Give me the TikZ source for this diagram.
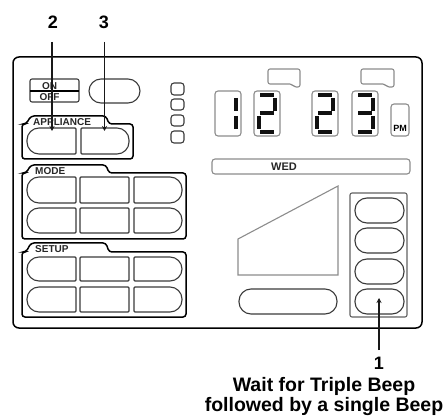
\documentclass[tikz,border=0pt]{standalone}
\usepackage{fontspec}
\setmainfont{Liberation Sans}
\usetikzlibrary{arrows.meta}
\definecolor{btnline}{HTML}{3A3A3A}
\definecolor{dispgray}{HTML}{8C8C8C}
\definecolor{seg}{HTML}{111111}
\newcommand{\lbtn}[4]{\draw[btn] (#3,#2) [rounded corners=12pt] -- (#1,#2) -- (#1,#4) [rounded corners=1pt] -- (#3,#4) -- cycle;}
\newcommand{\rbtn}[4]{\draw[btn] (#1,#2) [rounded corners=12pt] -- (#3,#2) -- (#3,#4) [rounded corners=1pt] -- (#1,#4) -- cycle;}
\newcommand{\mbtn}[4]{\draw[btn,rounded corners=1pt] (#1,#2) rectangle (#3,#4);}
\newcommand{\pill}[4]{\draw[btn,rounded corners=12pt] (#1,#2) rectangle (#3,#4);}
\newcommand{\grp}[8]{\draw[grpline,rounded corners=3pt] (#1,#5) -- (#1,#4) -- (26,#4) -- (31,#3) -- (106,#3) -- (109,#4) -- (#2,#4) -- (#2,#5) -- cycle;\node[grouplab,anchor=base west] (#6) at (#7,#8) {#6};}
\newcommand{\digbox}[2]{\draw[dispbox,rounded corners=3pt] (#1,#2) rectangle +(26,45);}
\newcommand{\sT}[2]{\draw[segline] (#1+6,#2+4) -- +(14,0);}
\newcommand{\sM}[2]{\draw[segline] (#1+6,#2+22.5) -- +(14,0);}
\newcommand{\sB}[2]{\draw[segline] (#1+6,#2+41) -- +(14,0);}
\newcommand{\sUR}[2]{\draw[segline] (#1+21,#2+7) -- +(0,13);}
\newcommand{\sLR}[2]{\draw[segline] (#1+21,#2+25) -- +(0,13);}
\newcommand{\sLL}[2]{\draw[segline] (#1+5,#2+25) -- +(0,13);}
\tikzset{
  btn/.style={draw=btnline,line width=1.1pt},
  grpline/.style={draw=black,line width=1.5pt},
  dispbox/.style={draw=dispgray,line width=1.1pt},
  segline/.style={draw=seg,line width=4pt},
  grouplab/.style={font=\bfseries\fontsize{10}{11}\selectfont,text=black!85,inner sep=0pt},
  smalllab/.style={font=\bfseries\fontsize{10}{11}\selectfont,text=black!85,inner sep=0pt},
  biglab/.style={font=\bfseries\fontsize{18}{20}\selectfont,inner sep=0pt},
  notelab/.style={font=\bfseries\fontsize{19.5}{22}\selectfont,inner sep=0pt},
  callout/.style={draw=black!90,line width=1.5pt,-{Stealth[length=5pt,width=5pt]}},
}
\begin{document}
\begin{tikzpicture}[x=1pt,y=-1pt]
\useasboundingbox (0,0) rectangle (445,417);
\draw[black,line width=1.5pt,rounded corners=6pt] (13,57) rectangle (422,328);
\draw[btn,rounded corners=2pt] (30,79) rectangle (79,102);
\draw[black,line width=1.2pt] (30,91) -- (79,91);
\node[smalllab] (on) at (49.5,86) {ON};
\node[smalllab] (off) at (49.5,97) {OFF};
\pill{89}{79}{140}{103}
\foreach \a/\b in {83/95,99/110,115/126,131/143}{
  \draw[btn,rounded corners=3pt] (171,\a) rectangle (184,\b);
}
\grp{22}{133}{116}{124}{159}{APPLIANCE}{33}{126}
\lbtn{27}{128}{76}{154}
\rbtn{81}{128}{129}{154}
\coordinate (b2) at (52,131);
\coordinate (b3) at (104.5,131);
\grp{22}{186}{165}{173}{239}{MODE}{35}{175}
\lbtn{27}{177}{76}{203}\mbtn{80}{177}{129}{203}\rbtn{134}{177}{182}{203}
\lbtn{27}{208}{76}{233}\mbtn{80}{208}{129}{233}\rbtn{134}{208}{182}{233}
\grp{22}{186}{243}{252}{317}{SETUP}{35}{252}
\lbtn{27}{257}{76}{281}\mbtn{80}{257}{129}{281}\rbtn{134}{257}{182}{281}
\lbtn{27}{287}{76}{312}\mbtn{80}{287}{129}{312}\rbtn{134}{287}{182}{312}
\draw[dispbox,rounded corners=2pt] (268,69) -- (268,84) -- (292,84) -- (294,87) -- (300,87) -- (300,69) -- cycle;
\draw[dispbox,rounded corners=2pt] (361,69) -- (361,84) -- (385,84) -- (387,87) -- (394,87) -- (394,69) -- cycle;
\digbox{215}{91}\sUR{215}{91}\sLR{215}{91}
\digbox{254}{91}\sT{254}{91}\sUR{254}{91}\sM{254}{91}\sLL{254}{91}\sB{254}{91}
\digbox{312}{91}\sT{312}{91}\sUR{312}{91}\sM{312}{91}\sLL{312}{91}\sB{312}{91}
\digbox{352}{91}\sT{352}{91}\sUR{352}{91}\sM{352}{91}\sLR{352}{91}\sB{352}{91}
\draw[dispbox,rounded corners=3pt] (391,104) rectangle (409,136);
\node[font=\bfseries\fontsize{9}{10}\selectfont,inner sep=0pt] (pm) at (400,128) {PM};
\draw[dispbox,rounded corners=3pt] (212,159) rectangle (410,174);
\node[smalllab,font=\bfseries\fontsize{11}{12}\selectfont] (wed) at (284,166.5) {WED};
\draw[draw=dispgray,line width=1.1pt] (238,239) -- (338,186) -- (338,275) -- (238,275) -- cycle;
\pill{239}{289}{337}{314}
\draw[btn,draw=btnline!80,rounded corners=2pt] (350,193) rectangle (407,317);
\pill{355}{198}{404}{223}
\pill{355}{228}{404}{253}
\pill{355}{259}{404}{284}
\pill{355}{289}{404}{314}
\coordinate (b1) at (379,298);
\node[biglab] (n2) at (53,22) {2};
\node[biglab] (n3) at (104,22) {3};
\node[biglab] (n1) at (379,363) {1};
\node[notelab] (wait) at (324,386) {Wait for Triple Beep};
\node[notelab] (foll) at (324,407) {followed by a single Beep};
\coordinate (s2) at (52,42);
\coordinate (s3) at (104.5,42);
\coordinate (s1) at (379,350);
\draw[callout] (s2) -- (b2);
\draw[callout] (s3) -- (b3);
\draw[callout] (s1) -- (b1);
\end{tikzpicture}
\end{document}
